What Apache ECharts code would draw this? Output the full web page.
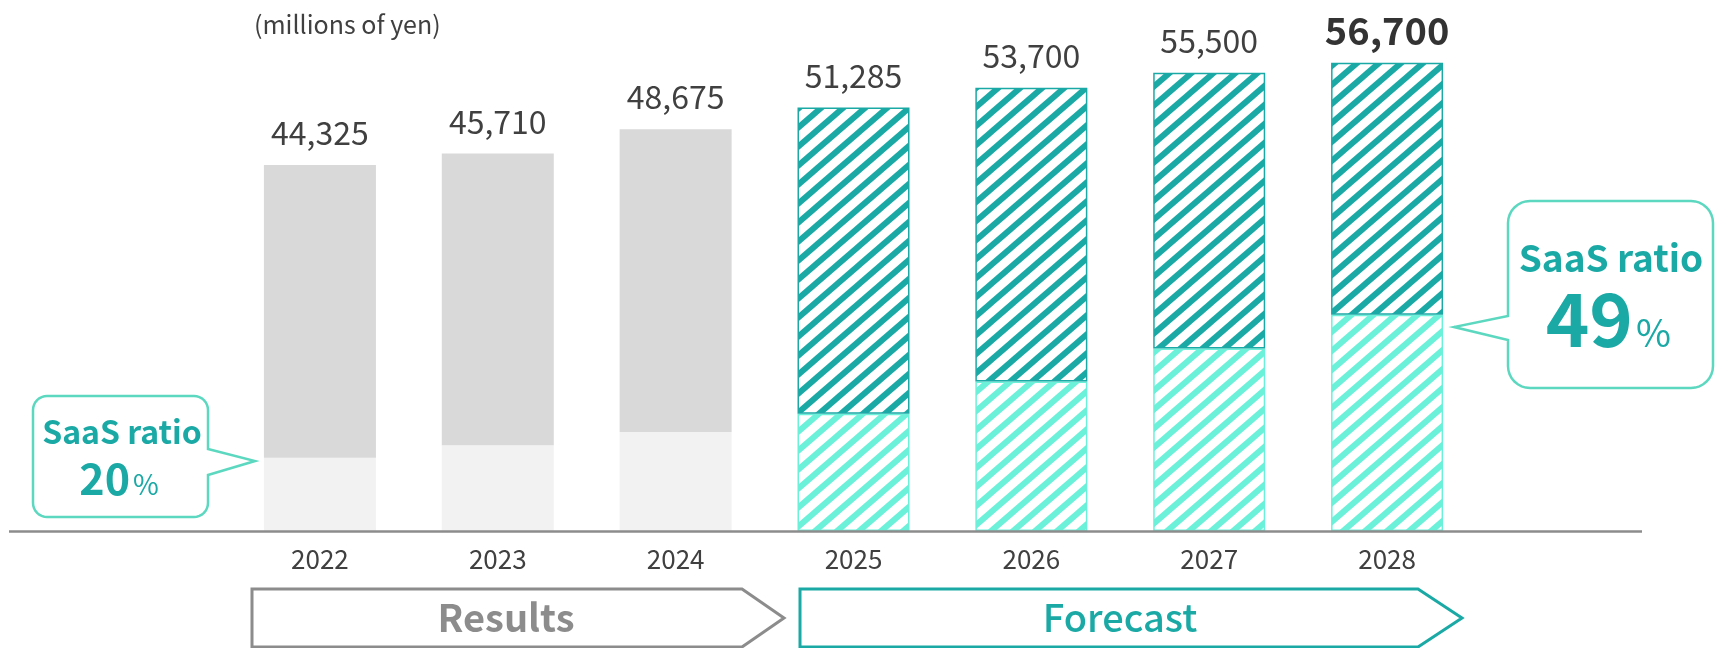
<!DOCTYPE html>
<html>
<head>
<meta charset="utf-8">
<script src="https://cdn.jsdelivr.net/npm/echarts@6/dist/echarts.min.js"></script>
<style>
  html, body { margin: 0; padding: 0; background: #fff; }
  #chart { width: 1719px; height: 648px; }
</style>
</head>
<body>
<div id="chart"></div>
<script>
// Fiscal years and revenue (millions of yen)
const years = ['2022', '2023', '2024', '2025', '2026', '2027', '2028'];
const totals = [44325, 45710, 48675, 51285, 53700, 55500, 56700];
const saasRevenue = [8865, 10400, 12000, 14200, 18100, 22100, 26200];
const forecastFrom = 3; // index of first forecast year
const unitLabel = '(millions of yen)';
const saasRatioStart = '20';
const saasRatioEnd = '49';

const FONT = '"Noto Sans CJK JP", "Noto Sans", sans-serif';
const TEAL = '#1ba9a6';
const MINT = '#6bf0d9';
const FRAME = '#5dd8c0';
const GREY_TEXT = '#404040';

const otherRevenue = totals.map((t, i) => t - saasRevenue[i]);

// diagonal stripe tile
function stripes(color, w, h, t) {
  const c = document.createElement('canvas');
  c.width = w; c.height = h;
  const g = c.getContext('2d');
  g.fillStyle = '#ffffff';
  g.fillRect(0, 0, w, h);
  g.strokeStyle = color;
  g.lineWidth = t;
  for (const k of [-1, 0, 1]) {
    g.beginPath();
    g.moveTo(k * w - w, 2 * h);
    g.lineTo(k * w + 2 * w, -h);
    g.stroke();
  }
  return c;
}
const darkHatch = { image: stripes(TEAL, 22, 19, 6), repeat: 'repeat' };
const lightHatch = { image: stripes(MINT, 22, 19, 6), repeat: 'repeat' };

const fmt = v => v.toLocaleString('en-US');

const saasData = saasRevenue.map((v, i) => ({
  value: v,
  itemStyle: i < forecastFrom
    ? { color: '#f2f2f2' }
    : { color: lightHatch, borderColor: MINT, borderWidth: 1.5 }
}));
const otherData = otherRevenue.map((v, i) => {
  const item = {
    value: v,
    itemStyle: i < forecastFrom
      ? { color: '#d9d9d9' }
      : { color: darkHatch, borderColor: TEAL, borderWidth: 1.5 }
  };
  if (i === years.length - 1) {
    item.label = { fontSize: 38, fontWeight: 'bold', color: '#333333', distance: 13 };
  }
  return item;
});

// rounded speech-bubble outline as polygon points
function bubble(x0, y0, x1, y1, r, side, b0, b1, tip) {
  const pts = [];
  const arc = (cx, cy, a0, a1) => {
    for (let s = 0; s <= 8; s++) {
      const a = a0 + (a1 - a0) * s / 8;
      pts.push([cx + r * Math.cos(a), cy + r * Math.sin(a)]);
    }
  };
  const P = Math.PI;
  arc(x0 + r, y0 + r, P, 1.5 * P);          // top-left
  arc(x1 - r, y0 + r, 1.5 * P, 2 * P);      // top-right
  if (side === 'right') { pts.push([x1, b0], tip, [x1, b1]); }
  arc(x1 - r, y1 - r, 0, 0.5 * P);          // bottom-right
  arc(x0 + r, y1 - r, 0.5 * P, P);          // bottom-left
  if (side === 'left') { pts.push([x0, b1], tip, [x0, b0]); }
  return pts;
}

// arrow-shaped banner
function banner(x0, y0, x1, tipX, y1) {
  return [[x0, y0], [x1, y0], [tipX, (y0 + y1) / 2], [x1, y1], [x0, y1]];
}

const chart = echarts.init(document.getElementById('chart'), null, { renderer: 'canvas' });

chart.setOption({
  animation: false,
  backgroundColor: '#ffffff',
  grid: { left: 231, right: 243, top: 2.6, bottom: 117, containLabel: false },
  xAxis: {
    type: 'category',
    data: years,
    axisLine: { show: false },
    axisTick: { show: false },
    axisLabel: { fontSize: 26, color: GREY_TEXT, fontFamily: FONT, margin: 15 }
  },
  yAxis: { type: 'value', min: 0, max: 64000, show: false, splitLine: { show: false } },
  series: [
    {
      name: 'SaaS',
      type: 'bar',
      stack: 'rev',
      barWidth: 112,
      data: saasData,
      z: 2
    },
    {
      name: 'Other',
      type: 'bar',
      stack: 'rev',
      barWidth: 112,
      data: otherData,
      z: 3,
      label: {
        show: true,
        position: 'top',
        distance: 16,
        fontSize: 32,
        color: GREY_TEXT,
        fontFamily: FONT,
        formatter: p => fmt(totals[p.dataIndex])
      }
    }
  ],
  graphic: [
    // baseline
    { type: 'line', shape: { x1: 9, y1: 531.5, x2: 1642, y2: 531.5 },
      style: { stroke: '#8c8c8c', lineWidth: 2.5 }, z: 10 },
    // unit
    { type: 'text', x: 254, y: 24,
      style: { text: unitLabel, font: '25px ' + FONT, fill: GREY_TEXT, verticalAlign: 'middle' } },
    // left bubble
    { type: 'polygon', shape: { points: bubble(33, 396, 208, 517, 14, 'right', 449, 475, [255, 461]) },
      style: { fill: '#ffffff', stroke: FRAME, lineWidth: 2.5 }, z: 20 },
    { type: 'text', x: 122, y: 432, z: 21,
      style: { text: 'SaaS ratio', font: 'bold 32px ' + FONT, fill: TEAL, align: 'center', verticalAlign: 'middle' } },
    { type: 'text', x: 130, y: 500, z: 21,
      style: { text: saasRatioStart, font: 'bold 43px ' + FONT, fill: TEAL, align: 'right', verticalAlign: 'bottom' } },
    { type: 'text', x: 133, y: 498.5, z: 21,
      style: { text: '%', font: '28px ' + FONT, fill: TEAL, align: 'left', verticalAlign: 'bottom' } },
    // right bubble
    { type: 'polygon', shape: { points: bubble(1508, 201, 1713, 388, 22, 'left', 316, 340, [1454, 327]) },
      style: { fill: '#ffffff', stroke: FRAME, lineWidth: 2.5 }, z: 20 },
    { type: 'text', x: 1611, y: 258, z: 21,
      style: { text: 'SaaS ratio', font: 'bold 37px ' + FONT, fill: TEAL, align: 'center', verticalAlign: 'middle' } },
    { type: 'text', x: 1633, y: 356, z: 21,
      style: { text: saasRatioEnd, font: 'bold 74px ' + FONT, fill: TEAL, align: 'right', verticalAlign: 'bottom' } },
    { type: 'text', x: 1636, y: 352, z: 21,
      style: { text: '%', font: '38px ' + FONT, fill: TEAL, align: 'left', verticalAlign: 'bottom' } },
    // period banners
    { type: 'polygon', shape: { points: banner(252, 589, 742, 784, 647) },
      style: { fill: '#ffffff', stroke: '#8c8c8c', lineWidth: 3 } },
    { type: 'text', x: 506, y: 618,
      style: { text: 'Results', font: 'bold 38px ' + FONT, fill: '#8c8c8c', align: 'center', verticalAlign: 'middle' } },
    { type: 'polygon', shape: { points: banner(800, 589, 1418, 1462, 647) },
      style: { fill: '#ffffff', stroke: TEAL, lineWidth: 3 } },
    { type: 'text', x: 1120, y: 618,
      style: { text: 'Forecast', font: '500 38px ' + FONT, fill: TEAL, align: 'center', verticalAlign: 'middle' } }
  ]
});
</script>
</body>
</html>
